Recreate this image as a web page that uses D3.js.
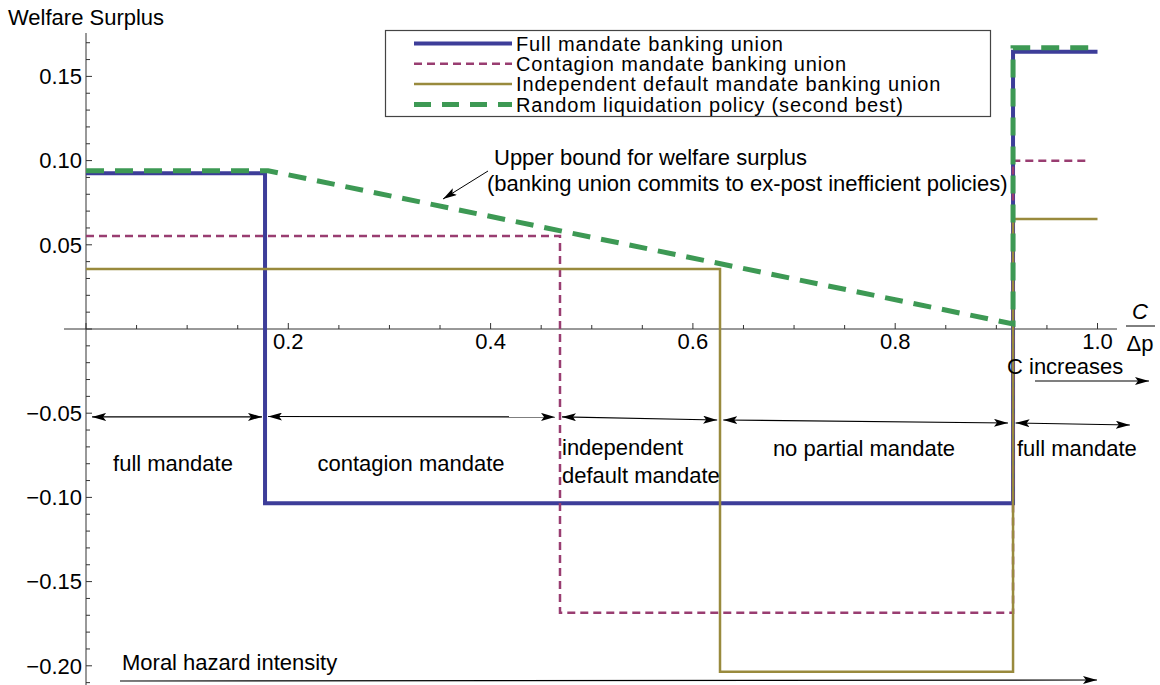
<!DOCTYPE html>
<html>
<head>
<meta charset="utf-8">
<script src="https://cdn.jsdelivr.net/npm/d3@7"></script>
<style>
  html, body { margin: 0; padding: 0; background: #fff; }
  svg text { font-family: "Liberation Sans", Arial, Helvetica, sans-serif; fill: #000; }
</style>
</head>
<body>
<svg id="chart" width="1160" height="685"></svg>
<script>
// ---------- data ----------
const fullX = [0, 0.177, 0.177, 0.9165, 0.9165, 1.0];
const fullY = [0.0925, 0.0925, -0.1035, -0.1035, 0.1647, 0.1647];

const contagionX = [0, 0.4686, 0.4686, 0.9165, 0.9165, 0.99];
const contagionY = [0.0552, 0.0552, -0.1685, -0.1685, 0.0999, 0.0999];

const independentX = [0, 0.6268, 0.6268, 0.9165, 0.9165, 1.0];
const independentY = [0.0356, 0.0356, -0.2035, -0.2035, 0.0653, 0.0653];

const randomX = [0, 0.18, 0.9165, 0.9165, 1.0];
const randomY = [0.094, 0.094, 0.003, 0.167, 0.167];

const seriesNames = [
  "Full mandate banking union",
  "Contagion mandate banking union",
  "Independent default mandate banking union",
  "Random liquidation policy (second best)"
];
const seriesColors = ["#3d3d99", "#993d71", "#998a3d", "#3d9954"];

const xTickValues = [0.2, 0.4, 0.6, 0.8, 1.0];
const xTickLabels = ["0.2", "0.4", "0.6", "0.8", "1.0"];
const yTickValues = [0.15, 0.10, 0.05, -0.05, -0.10, -0.15, -0.20];
const yTickLabels = ["0.15", "0.10", "0.05", "\u22120.05", "\u22120.10", "\u22120.15", "\u22120.20"];

// region annotations (x0, x1 in data units; y0, y1 in data units)
const regionArrowX0 = [0.006, 0.180, 0.4706, 0.630, 0.919];
const regionArrowX1 = [0.174, 0.4637, 0.624, 0.9115, 1.032];
const regionArrowY0 = [-0.0522, -0.0520, -0.0522, -0.0540, -0.0558];
const regionArrowY1 = [-0.0522, -0.0522, -0.0540, -0.0558, -0.0570];
const regionLabels = ["full mandate", "contagion mandate", "independent|default mandate", "no partial mandate", "full mandate"];

// ---------- layout ----------
const svg = d3.select("#chart");
const x = d3.scaleLinear().domain([0, 1]).range([86, 1097.5]);
const y = d3.scaleLinear().domain([0, 0.15]).range([329, 76.4]);
const FS = 22;

// defs: arrowheads
const defs = svg.append("defs");
defs.append("marker").attr("id", "ah").attr("viewBox", "0 0 14 8")
  .attr("refX", 14).attr("refY", 4).attr("markerWidth", 14).attr("markerHeight", 8)
  .attr("markerUnits", "userSpaceOnUse").attr("orient", "auto-start-reverse")
  .append("path").attr("d", "M0,0 L14,4 L0,8 L3,4 Z").attr("fill", "#000");

// ---------- axes ----------
const axisG = svg.append("g").attr("stroke", "#333").attr("stroke-width", 1);
axisG.append("line").attr("x1", x(0)).attr("x2", x(0)).attr("y1", 33).attr("y2", 685);
axisG.append("line").attr("x1", 64).attr("x2", 1117).attr("y1", y(0)).attr("y2", y(0));

d3.range(0, 21).map(i => i * 0.05).forEach((v, i) => {
  const major = i % 4 === 0;
  axisG.append("line").attr("x1", x(v)).attr("x2", x(v))
    .attr("y1", y(0)).attr("y2", y(0) - (major ? 6 : 4));
});
d3.range(-21, 18).forEach(i => {
  const v = i * 0.01;
  const major = i % 5 === 0;
  axisG.append("line").attr("x1", x(0)).attr("x2", x(0) + (major ? 6 : 4))
    .attr("y1", y(v)).attr("y2", y(v));
});

svg.append("g").selectAll("text").data(xTickValues).join("text")
  .attr("x", d => x(d)).attr("y", y(0) + 20)
  .attr("text-anchor", "middle").attr("font-size", FS)
  .text((d, i) => xTickLabels[i]);
svg.append("g").selectAll("text").data(yTickValues).join("text")
  .attr("x", x(0) - 4).attr("y", d => y(d) + 7.8)
  .attr("text-anchor", "end").attr("font-size", FS)
  .text((d, i) => yTickLabels[i]);

svg.append("text").attr("x", 8).attr("y", 25).attr("font-size", FS).text("Welfare Surplus");
svg.append("text").attr("x", 1140).attr("y", 319).attr("font-size", FS)
  .attr("font-style", "italic").attr("text-anchor", "middle").text("C");
svg.append("line").attr("x1", 1126).attr("x2", 1155).attr("y1", 326).attr("y2", 326)
  .attr("stroke", "#000").attr("stroke-width", 1);
svg.append("text").attr("x", 1140).attr("y", 351).attr("font-size", FS)
  .attr("text-anchor", "middle").text("\u0394p");

// ---------- series ----------
const line = d3.line().x(d => x(d[0])).y(d => y(d[1]));
const seriesData = [
  { xs: fullX, ys: fullY, w: 4, dash: null },
  { xs: contagionX, ys: contagionY, w: 2.5, dash: "8,5" },
  { xs: independentX, ys: independentY, w: 2.5, dash: null },
  { xs: randomX, ys: randomY, w: 5, dash: "18,11" }
];
seriesData.forEach((s, i) => {
  svg.append("path")
    .attr("d", line(s.xs.map((v, j) => [v, s.ys[j]])))
    .attr("fill", "none").attr("stroke", seriesColors[i])
    .attr("stroke-width", s.w).attr("stroke-dasharray", s.dash)
    .attr("stroke-linejoin", "miter").attr("stroke-linecap", "butt");
});

// ---------- legend ----------
const lg = svg.append("g");
lg.append("rect").attr("x", 385.5).attr("y", 30.5).attr("width", 605).attr("height", 86)
  .attr("fill", "#fff").attr("stroke", "#444").attr("stroke-width", 1.2);
seriesData.forEach((s, i) => {
  const yy = 43.5 + i * 20.3;
  lg.append("line").attr("x1", 414).attr("x2", 512).attr("y1", yy).attr("y2", yy)
    .attr("stroke", seriesColors[i]).attr("stroke-width", s.w)
    .attr("stroke-dasharray", i === 3 ? "17,11" : s.dash);
  lg.append("text").attr("x", 516).attr("y", yy + 7.2).attr("font-size", 20)
    .attr("letter-spacing", 0.85).text(seriesNames[i]);
});

// ---------- annotations ----------
const ann = svg.append("g");
ann.append("text").attr("x", 494).attr("y", 165).attr("font-size", FS).text("Upper bound for welfare surplus");
ann.append("text").attr("x", 487).attr("y", 191).attr("font-size", FS)
  .text("(banking union commits to ex-post inefficient policies)");
ann.append("line").attr("x1", 488).attr("y1", 171).attr("x2", 443).attr("y2", 199)
  .attr("stroke", "#000").attr("stroke-width", 1).attr("marker-end", "url(#ah)");

regionArrowX0.forEach((x0, i) => {
  ann.append("line").attr("x1", x(x0)).attr("x2", x(regionArrowX1[i]))
    .attr("y1", y(regionArrowY0[i])).attr("y2", y(regionArrowY1[i]))
    .attr("stroke", "#000").attr("stroke-width", 1.1)
    .attr("marker-start", "url(#ah)").attr("marker-end", "url(#ah)");
});
const labelPos = [
  { cx: 173, y: 471, anchor: "middle" },
  { cx: 411, y: 471, anchor: "middle" },
  { cx: 562, y: 455, anchor: "start" },
  { cx: 864, y: 456, anchor: "middle" },
  { cx: 1017, y: 456, anchor: "start" }
];
regionLabels.forEach((t, i) => {
  const p = labelPos[i];
  t.split("|").forEach((part, k) => {
    ann.append("text").attr("x", p.cx).attr("y", p.y + k * 28).attr("font-size", FS)
      .attr("text-anchor", p.anchor).text(part);
  });
});

ann.append("text").attr("x", 1007).attr("y", 374).attr("font-size", FS).text("C increases");
ann.append("line").attr("x1", 1035).attr("x2", 1149).attr("y1", 381).attr("y2", 381)
  .attr("stroke", "#000").attr("stroke-width", 1.1).attr("marker-end", "url(#ah)");

ann.append("text").attr("x", 122).attr("y", 670).attr("font-size", FS).text("Moral hazard intensity");
ann.append("line").attr("x1", 120).attr("x2", 1097).attr("y1", 681).attr("y2", 680)
  .attr("stroke", "#000").attr("stroke-width", 1.1).attr("marker-end", "url(#ah)");
</script>
</body>
</html>
